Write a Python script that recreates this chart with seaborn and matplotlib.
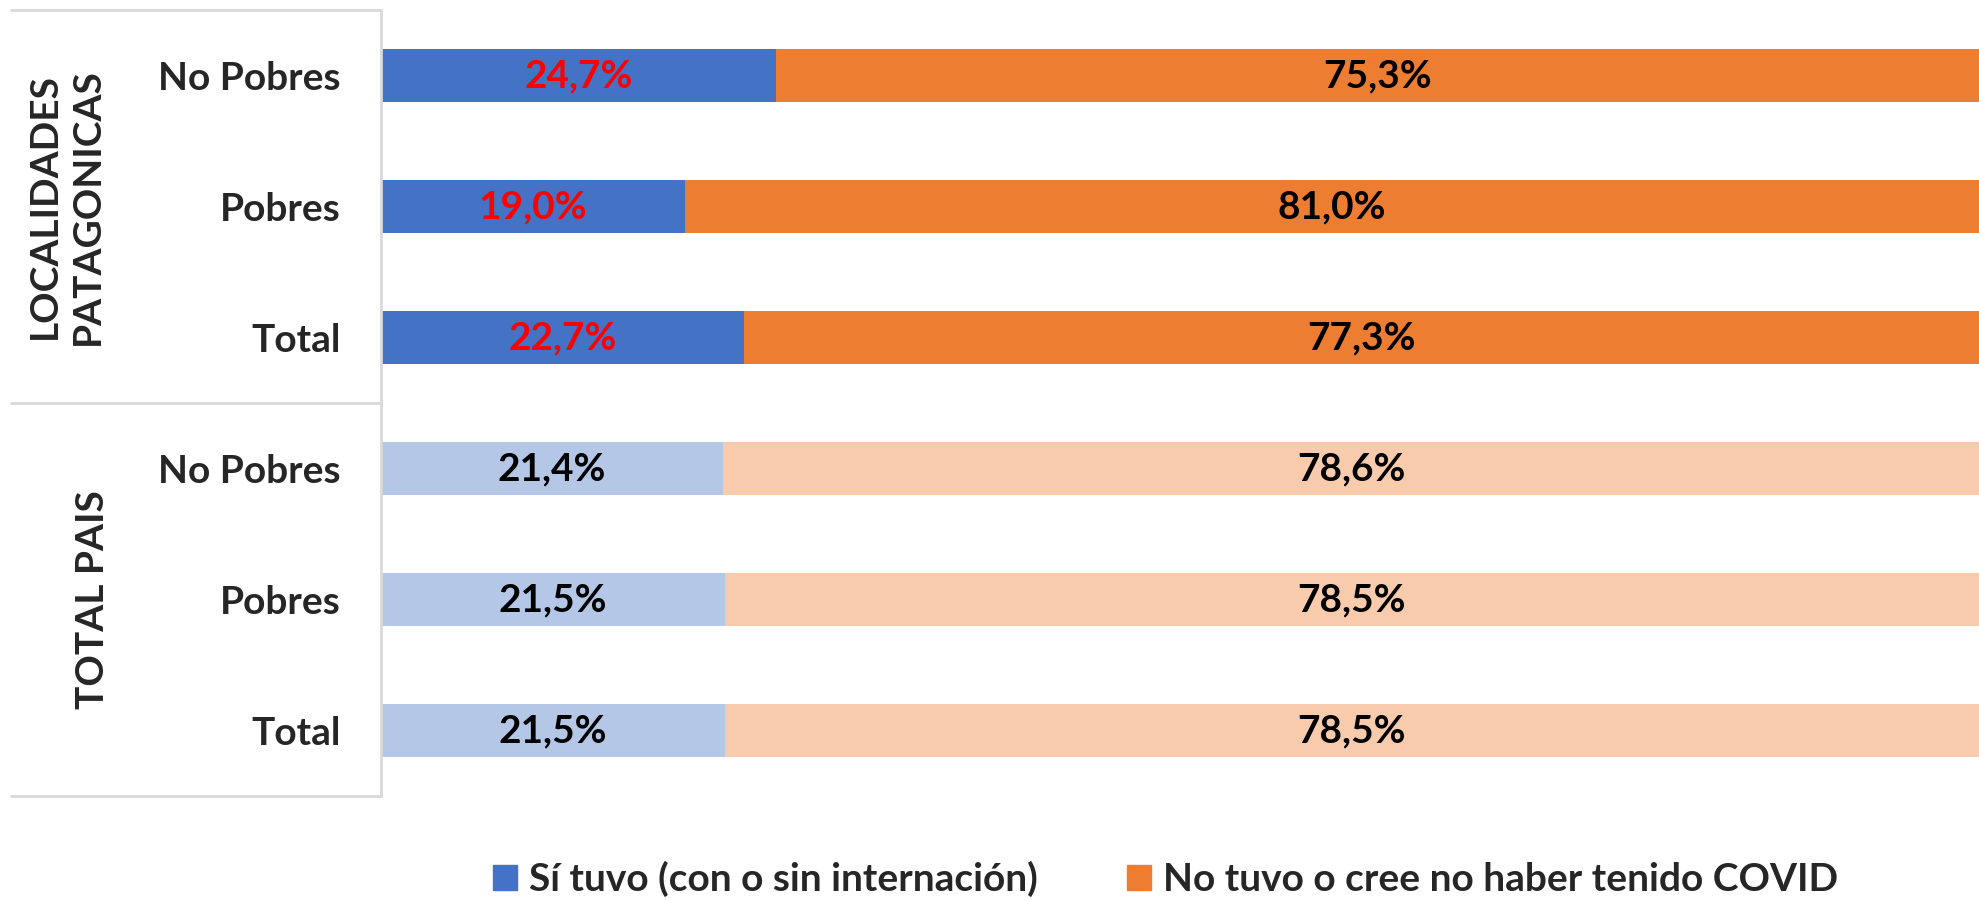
import matplotlib
matplotlib.use("Agg")
import matplotlib.pyplot as plt
from matplotlib.patches import Patch
import pandas as pd
import seaborn as sns

# data
grupos = ["LOCALIDADES\nPATAGONICAS"] * 3 + ["TOTAL PAIS"] * 3
categorias = ["No Pobres", "Pobres", "Total", "No Pobres", "Pobres", "Total"]
si_tuvo = [24.7, 19.0, 22.7, 21.4, 21.5, 21.5]
no_tuvo = [75.3, 81.0, 77.3, 78.6, 78.5, 78.5]
serie_si = "Sí tuvo (con o sin internación)"
serie_no = "No tuvo o cree no haber tenido COVID"

AZUL, NARANJA = "#4472C4", "#ED7D31"
AZUL_CLARO, NARANJA_CLARO = "#B4C7E7", "#F8CBAD"

sns.set_theme(style="white")
plt.rcParams["font.family"] = ["Lato", "DejaVu Sans"]

df = pd.DataFrame({
    "fila": [f"{i}" for i in range(len(categorias))],
    "grupo": ["LP" if g.startswith("LOC") else "TP" for g in grupos],
    "si": si_tuvo,
    "no": no_tuvo,
})
df["total"] = df["si"] + df["no"]

fig = plt.figure(figsize=(19.79, 9.01), dpi=100)
ax = fig.add_axes([381 / 1979, 1 - 796 / 901, 1 - 381 / 1979, 786 / 901])

# stacked bars: full length in orange, blue part drawn on top
sns.barplot(data=df, x="total", y="fila", hue="grupo", dodge=False,
            palette={"LP": NARANJA, "TP": NARANJA_CLARO}, width=0.4,
            legend=False, ax=ax, linewidth=0, saturation=1)
sns.barplot(data=df, x="si", y="fila", hue="grupo", dodge=False,
            palette={"LP": AZUL, "TP": AZUL_CLARO}, width=0.4,
            legend=False, ax=ax, linewidth=0, saturation=1)

def fmt(v):
    return f"{v:.1f}".replace(".", ",") + "%"

for i, (s, n, g) in enumerate(zip(df["si"], df["no"], df["grupo"])):
    col_si = "#FF0000" if g == "LP" else "black"
    ax.text(s / 2, i, fmt(s), ha="center", va="center", fontsize=28,
            fontweight="bold", color=col_si)
    ax.text(s + n / 2, i, fmt(n), ha="center", va="center", fontsize=28,
            fontweight="bold", color="black")

ax.set_xlim(0, 100)
ax.set_ylim(5.5, -0.5)
ax.set_xlabel("")
ax.set_ylabel("")
ax.set_xticks([])
ax.set_yticks(range(len(categorias)))
ax.set_yticklabels(categorias, fontsize=28, fontweight="bold")
ax.tick_params(axis="y", length=0, pad=29)
for sp in ax.spines.values():
    sp.set_visible(False)

# group frame on the left
tr = ax.get_yaxis_transform()
x0 = (11 - 381) / 1598
gris = "#D9D9D9"
for yy in [-0.5, 2.5, 5.5]:
    ax.plot([x0, 0], [yy, yy], color=gris, lw=2, transform=tr, clip_on=False)
ax.plot([0, 0], [-0.5, 5.5], color=gris, lw=2, transform=tr, clip_on=False)

ax.text((66 - 381) / 1598, 1.0, grupos[0], transform=tr, rotation=90,
        ha="center", va="center", fontsize=28, fontweight="bold",
        linespacing=1.3)
ax.text((92 - 381) / 1598, 4.0, grupos[3], transform=tr, rotation=90,
        ha="center", va="center", fontsize=28, fontweight="bold")

handles = [Patch(color=AZUL, label=serie_si), Patch(color=NARANJA, label=serie_no)]
fig.legend(handles=handles, loc="center", bbox_to_anchor=(0.589, 0.024),
           ncol=2, frameon=False, handlelength=0.62, handleheight=0.62,
           handletextpad=0.3, columnspacing=2.3,
           prop={"size": 28, "weight": "bold"})

fig.savefig("out.png", dpi=100)
